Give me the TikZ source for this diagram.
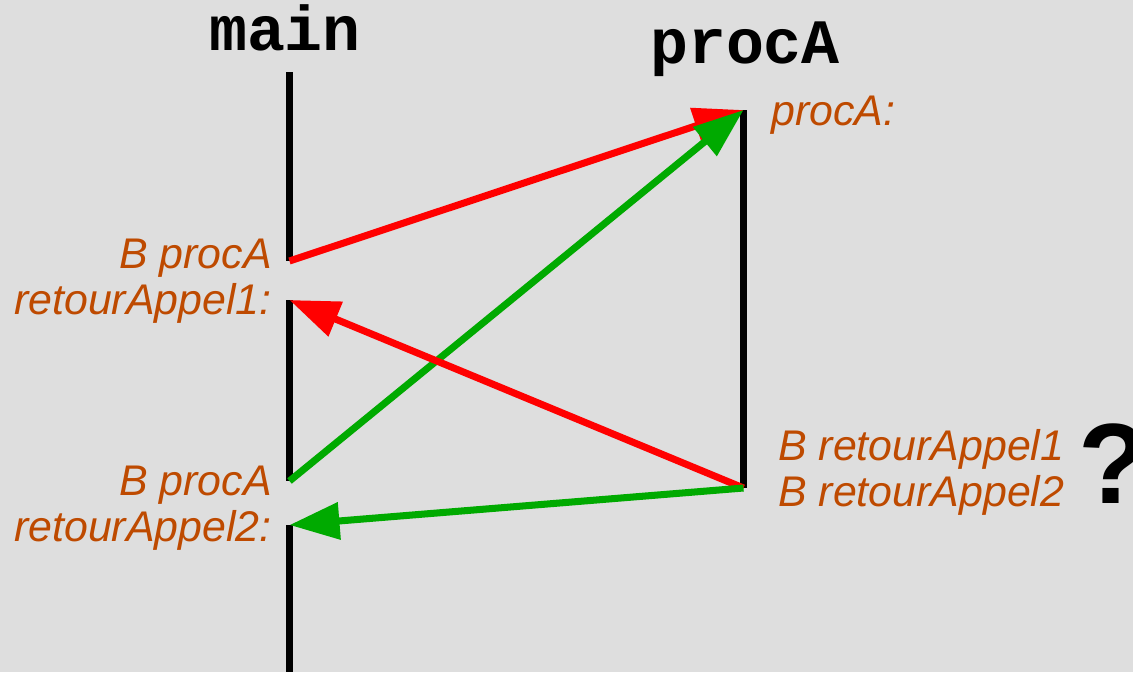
\documentclass[tikz,border=0pt]{standalone}
\usepackage{fontspec}
\usepackage{xcolor}
\usetikzlibrary{arrows.meta}
\setmainfont{Liberation Sans}
\newfontfamily\codefont{Liberation Mono}
\definecolor{bg}{RGB}{222,222,222}
\definecolor{lblcol}{RGB}{190,74,0}
\definecolor{callgreen}{RGB}{0,170,0}

\begin{document}
\begin{tikzpicture}[
  life/.style={line width=4pt,black},
  call/.style={line width=4pt,-{Triangle[length=1cm,width=0.72cm]}},
  lbl/.style={text=lblcol,font=\fontsize{24.4}{26}\selectfont\itshape,inner sep=0pt},
  title/.style={font=\codefont\bfseries\fontsize{36}{36}\selectfont,inner sep=0pt}]

\fill[bg] (0,0) rectangle (22.66,-13.44);
\useasboundingbox (0,0) rectangle (22.66,-13.44);

\node[title,anchor=base](main) at (5.7,-1.0){main};
\node[title,anchor=base](procA) at (14.9,-1.26){procA};

% points on the two lifelines
\coordinate (m0) at (5.79,-1.44);
\coordinate (call1) at (5.79,-5.22);
\coordinate (ret1) at (5.79,-6.0);
\coordinate (call2) at (5.79,-9.62);
\coordinate (ret2) at (5.79,-10.5);
\coordinate (m1) at (5.79,-13.44);
\coordinate (entry) at (14.87,-2.2);
\coordinate (exit) at (14.87,-9.76);

\draw[life](m0)--(call1);
\draw[life](ret1)--(call2);
\draw[life](ret2)--(m1);
\draw[life](entry)--(exit);

\draw[call,red](call1)--(entry);
\draw[call,callgreen](call2)--(entry);
\draw[call,red](exit)--(ret1);
\draw[call,callgreen](exit)--(ret2);

\node[lbl,anchor=north east,align=right](lbl1) at (5.44,-4.78){B procA\\retourAppel1:};
\node[lbl,anchor=north east,align=right](lbl2) at (5.44,-9.32){B procA\\retourAppel2:};
\node[lbl,anchor=base west](lblA) at (15.42,-2.5){procA:};
\node[lbl,anchor=north west,align=left](lblB) at (15.56,-8.58){B retourAppel1\\B retourAppel2};
\node[font=\bfseries\fontsize{65}{65}\selectfont,anchor=base west,inner sep=0pt](ask) at (21.56,-10.06){?};

\end{tikzpicture}
\end{document}
